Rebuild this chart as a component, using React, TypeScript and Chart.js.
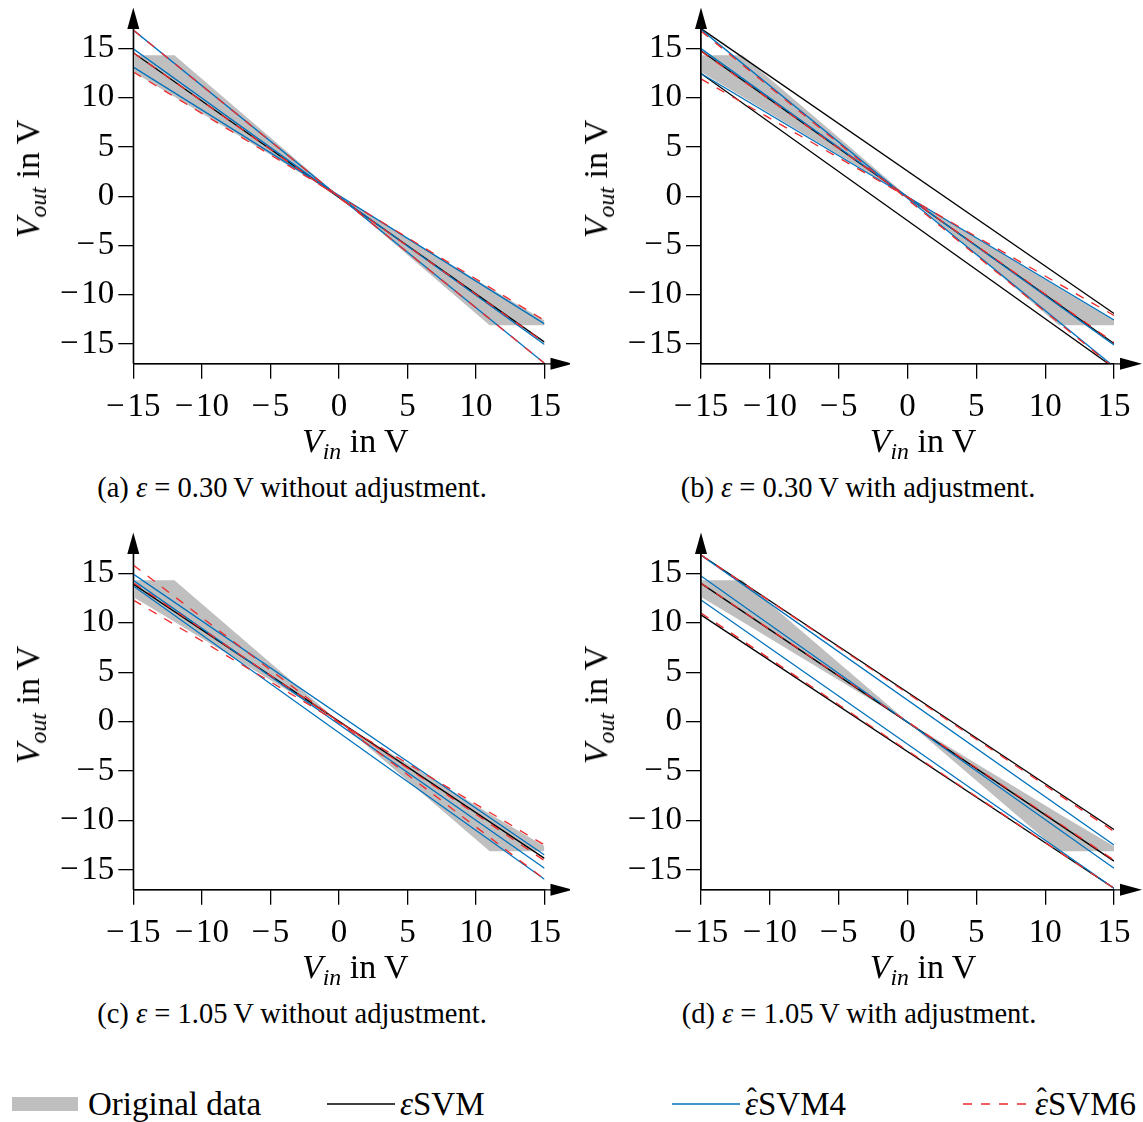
import React, { useEffect, useRef } from 'react';
import { Chart, registerables } from 'chart.js';

Chart.register(...registerables);

const SERIF = '"Liberation Serif", "DejaVu Serif", serif';

// V_in at both ends of every straight line
const vinEnds = [-15, 15];
const xTickValues = [-15, -10, -5, 0, 5, 10, 15];
const yTickValues = [-15, -10, -5, 0, 5, 10, 15];

// Envelope of the measured data (upper and lower edge)
const dataVin = [-15, -12, 0, 11, 15];
const dataUpper = [14.3, 14.3, 0, -9.3, -12.6];
const dataLower = [12.6, 10.1, 0, -13.1, -13.1];

// Fitted lines, each as [V_out at V_in = -15, V_out at V_in = 15]
// (a) eps = 0.30 V without adjustment
const svmA = [[14.55, -14.8]];
const svm4A = [[16.85, -16.95], [14.95, -15.05], [13.1, -12.95]];
const svm6A = [[16.85, -16.95], [14.55, -14.85], [12.6, -12.6]];
// (b) eps = 0.30 V with adjustment
const svmB = [[17.0, -11.9], [14.75, -14.95], [12.45, -17.4]];
const svm4B = [[16.9, -17.3], [14.97, -15.1], [12.45, -12.55]];
const svm6B = [[16.75, -17.4], [14.7, -14.85], [11.9, -12.1]];
// (c) eps = 1.05 V without adjustment
const svmC = [[13.92, -13.82]];
const svm4C = [[14.93, -13.48], [14.3, -14.83], [13.72, -15.94]];
const svm6C = [[15.84, -15.94], [14.06, -14.05], [12.3, -12.47]];
// (d) eps = 1.05 V with adjustment
const svmD = [[16.85, -10.9], [13.99, -14.1], [10.8, -16.85]];
const svm4D = [[16.85, -12.47], [14.73, -14.83], [12.3, -16.85]];
const svm6D = [[16.85, -11.1], [14.0, -14.0], [11.0, -16.85]];

const BLACK = '#000000';
const BLUE = '#0072bd';
const RED = '#ee2a2a';
const GRAY = '#bfbfbf';

type Area = { l: number; t: number; r: number; b: number };
type Box = { left: number; top: number; w: number; h: number };
type PanelDef = {
  key: string;
  label: string;
  eps: string;
  adj: string;
  svm: number[][];
  svm4: number[][];
  svm6: number[][];
  box: Box;
  area: Area;
  captionX: number;
};

const panels: PanelDef[] = [
  { key: 'a', label: '(a)', eps: '0.30', adj: 'without', svm: svmA, svm4: svm4A, svm6: svm6A,
    box: { left: 0, top: 0, w: 570, h: 440 }, area: { l: 133.3, t: 28.6, r: 547.3, b: 363.8 }, captionX: 292 },
  { key: 'b', label: '(b)', eps: '0.30', adj: 'with', svm: svmB, svm4: svm4B, svm6: svm6B,
    box: { left: 570, top: 0, w: 573, h: 440 }, area: { l: 701, t: 28.6, r: 1114, b: 363.8 }, captionX: 858 },
  { key: 'c', label: '(c)', eps: '1.05', adj: 'without', svm: svmC, svm4: svm4C, svm6: svm6C,
    box: { left: 0, top: 525, w: 570, h: 440 }, area: { l: 133.3, t: 553.6, r: 547.3, b: 889.8 }, captionX: 292 },
  { key: 'd', label: '(d)', eps: '1.05', adj: 'with', svm: svmD, svm4: svm4D, svm6: svm6D,
    box: { left: 570, top: 525, w: 573, h: 440 }, area: { l: 701, t: 553.6, r: 1114, b: 889.8 }, captionX: 859 },
];

const Y_W = 80;
const X_H = 60;

const fmt = (v: number | string) => {
  const n = Number(v);
  return n < 0 ? '\u2212\u200A' + Math.abs(n) : String(n);
};

const lineSet = (ends: number[], color: string, order: number, dash: number[] = []) => ({
  data: vinEnds.map((x, i) => ({ x, y: ends[i] })),
  borderColor: color,
  borderWidth: 1.3,
  borderDash: dash,
  pointRadius: 0,
  fill: false,
  tension: 0,
  order,
});

// Axis lines ending in filled arrow heads
const axisArrows = {
  id: 'axisArrows',
  afterDraw(chart: any) {
    const { ctx, chartArea: a } = chart;
    ctx.save();
    ctx.strokeStyle = '#000';
    ctx.fillStyle = '#000';
    ctx.lineWidth = 1.3;
    ctx.beginPath();
    ctx.moveTo(a.left, a.bottom);
    ctx.lineTo(a.right + 8, a.bottom);
    ctx.moveTo(a.left, a.bottom);
    ctx.lineTo(a.left, a.top - 2);
    ctx.stroke();
    ctx.beginPath();
    ctx.moveTo(a.right + 28, a.bottom);
    ctx.lineTo(a.right + 6, a.bottom - 6);
    ctx.lineTo(a.right + 6, a.bottom + 6);
    ctx.closePath();
    ctx.fill();
    ctx.beginPath();
    ctx.moveTo(a.left, a.top - 21);
    ctx.lineTo(a.left - 6, a.top + 0.5);
    ctx.lineTo(a.left + 6, a.top + 0.5);
    ctx.closePath();
    ctx.fill();
    ctx.restore();
  },
};

function buildConfig(p: PanelDef): any {
  const { box, area } = p;
  const datasets: any[] = [];
  p.svm6.forEach((e) => datasets.push(lineSet(e, RED, 0, [9, 9])));
  p.svm4.forEach((e) => datasets.push(lineSet(e, BLUE, 1)));
  p.svm.forEach((e) => datasets.push(lineSet(e, BLACK, 2)));
  datasets.push({
    data: dataVin.map((x, i) => ({ x, y: dataUpper[i] })),
    borderWidth: 0,
    pointRadius: 0,
    backgroundColor: GRAY,
    fill: '+1',
    tension: 0,
    order: 3,
  });
  datasets.push({
    data: dataVin.map((x, i) => ({ x, y: dataLower[i] })),
    borderWidth: 0,
    pointRadius: 0,
    fill: false,
    tension: 0,
    order: 4,
  });

  const tickFont = { family: SERIF, size: 33 };
  const grid = { display: true, drawOnChartArea: false, drawTicks: true, tickLength: 15, color: '#000', lineWidth: 1.3 };
  const border = { display: true, color: '#000', width: 1.3 };

  return {
    type: 'line',
    data: { datasets },
    plugins: [axisArrows],
    options: {
      animation: false,
      responsive: false,
      maintainAspectRatio: false,
      layout: {
        padding: {
          left: area.l - box.left - Y_W,
          right: box.left + box.w - area.r,
          top: area.t - box.top,
          bottom: box.top + box.h - area.b - X_H,
        },
      },
      plugins: { legend: { display: false }, tooltip: { enabled: false } },
      scales: {
        x: {
          type: 'linear',
          min: -15,
          max: 15,
          afterFit: (s: any) => { s.height = X_H; },
          afterBuildTicks: (s: any) => { s.ticks = xTickValues.map((v) => ({ value: v })); },
          ticks: { font: tickFont, color: '#000', padding: 9, callback: fmt, maxRotation: 0, autoSkip: false },
          grid,
          border,
        },
        y: {
          type: 'linear',
          min: -17,
          max: 17,
          afterFit: (s: any) => { s.width = Y_W; },
          afterBuildTicks: (s: any) => { s.ticks = yTickValues.map((v) => ({ value: v })); },
          ticks: { font: tickFont, color: '#000', padding: 4, callback: fmt, autoSkip: false },
          grid,
          border,
        },
      },
    },
  };
}

const centered: React.CSSProperties = {
  position: 'absolute',
  transform: 'translate(-50%, -50%)',
  whiteSpace: 'nowrap',
  lineHeight: 1,
};

const subStyle: React.CSSProperties = { fontSize: '0.7em', verticalAlign: '-0.3em', lineHeight: 0, fontStyle: 'italic' };

// Epsilon with a circumflex placed over it
function EpsHat() {
  return (
    <span style={{ position: 'relative', display: 'inline-block' }}>
      <i>ε</i>
      <span
        style={{
          position: 'absolute',
          left: '52%',
          top: '-0.12em',
          transform: 'translateX(-50%)',
          fontSize: '0.9em',
          lineHeight: 1,
        }}
      >
        {'\u02C6'}
      </span>
    </span>
  );
}

function Panel({ p }: { p: PanelDef }) {
  const ref = useRef<HTMLCanvasElement>(null);
  useEffect(() => {
    const chart = new Chart(ref.current as HTMLCanvasElement, buildConfig(p));
    return () => chart.destroy();
  }, [p]);
  const { box, area } = p;
  return (
    <>
      <canvas
        ref={ref}
        width={box.w}
        height={box.h}
        style={{ position: 'absolute', left: box.left, top: box.top, width: box.w, height: box.h }}
      />
      <div
        style={{
          ...centered,
          fontSize: 34,
          left: area.l - 105,
          top: (area.t + area.b) / 2 - 17,
          transform: 'translate(-50%, -50%) rotate(-90deg)',
        }}
      >
        <i>V</i><span style={subStyle}>out</span> in V
      </div>
      <div style={{ ...centered, fontSize: 34, left: area.l + 222, top: area.b + 77 }}>
        <i>V</i><span style={subStyle}>in</span> in V
      </div>
      <div style={{ ...centered, fontSize: 28.5, left: p.captionX, top: area.b + 124 }}>
        {p.label} <i>ε</i> = {p.eps}&#8201;V {p.adj} adjustment.
      </div>
    </>
  );
}

function Legend() {
  const text: React.CSSProperties = {
    position: 'absolute',
    top: 1104,
    transform: 'translateY(-50%)',
    whiteSpace: 'nowrap',
    lineHeight: 1,
    fontSize: 33,
  };
  return (
    <>
      <div style={{ position: 'absolute', left: 12, top: 1097, width: 66, height: 14, background: GRAY }} />
      <span style={{ ...text, left: 88 }}>Original data</span>
      <svg style={{ position: 'absolute', left: 327, top: 1097 }} width={68} height={14}>
        <line x1={0} y1={7} x2={68} y2={7} stroke={BLACK} strokeWidth={1.3} />
      </svg>
      <span style={{ ...text, left: 400 }}><i>ε</i>SVM</span>
      <svg style={{ position: 'absolute', left: 672, top: 1097 }} width={68} height={14}>
        <line x1={0} y1={7} x2={68} y2={7} stroke={BLUE} strokeWidth={1.3} />
      </svg>
      <span style={{ ...text, left: 745 }}><EpsHat />SVM4</span>
      <svg style={{ position: 'absolute', left: 963, top: 1097 }} width={68} height={14}>
        <line x1={0} y1={7} x2={68} y2={7} stroke={RED} strokeWidth={1.3} strokeDasharray="9 9" />
      </svg>
      <span style={{ ...text, left: 1035 }}><EpsHat />SVM6</span>
    </>
  );
}

export default function App() {
  return (
    <div
      style={{
        position: 'absolute',
        left: 0,
        top: 0,
        width: 1143,
        height: 1122,
        background: '#ffffff',
        fontFamily: SERIF,
        color: '#000',
        overflow: 'hidden',
      }}
    >
      {panels.map((p) => (
        <Panel key={p.key} p={p} />
      ))}
      <Legend />
    </div>
  );
}
